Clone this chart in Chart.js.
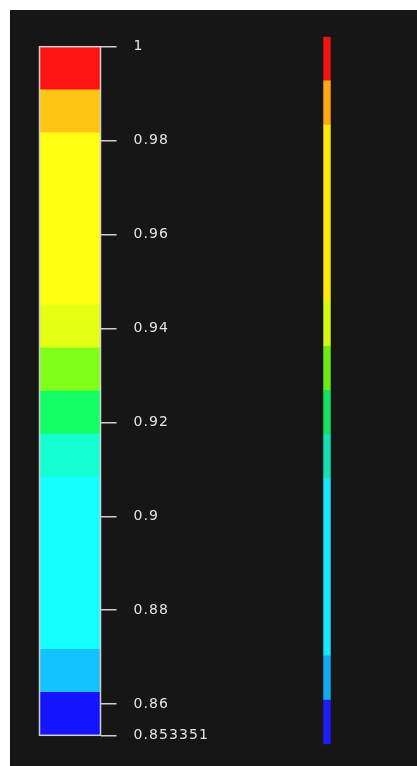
<!DOCTYPE html>
<html>
<head>
<meta charset="utf-8">
<script src="https://cdn.jsdelivr.net/npm/chart.js@4/dist/chart.umd.min.js"></script>
<style>
  html, body { margin: 0; padding: 0; background: #ffffff; }
  #frame { position: absolute; left: 10px; top: 10px; width: 407px; height: 756px; background: #161616; }
  canvas { position: absolute; left: 0; top: 0; }
</style>
</head>
<body>
<div id="frame"></div>
<canvas id="bar" width="417" height="766"></canvas>
<canvas id="strip" width="417" height="766"></canvas>
<script>
// Contour level boundaries, from minimum to maximum
const levelBounds = [0.853351, 0.862517, 0.871683, 0.908345, 0.917511, 0.926677,
                     0.935843, 0.945009, 0.981675, 0.990838, 1];
// Band colours, bottom band first
const bandColors = ['#1414ff', '#14c2ff', '#14ffff', '#14ffd2', '#14ff66',
                    '#80ff1a', '#e4ff14', '#ffff12', '#ffc515', '#ff1414'];
const stripColors = ['#1e1ef8', '#14aaf0', '#16e6fa', '#14e2b6', '#14e266',
                     '#6eea14', '#d2fa14', '#fceb0a', '#ffaa14', '#f01414'];
// Colour bar tick values and their labels
const tickValues = [1, 0.98, 0.96, 0.94, 0.92, 0.9, 0.88, 0.86, 0.853351];
const tickLabels = ['1', '0.98', '0.96', '0.94', '0.92', '0.9', '0.88', '0.86', '0.853351'];

const vMin = levelBounds[0];
const vMax = levelBounds[levelBounds.length - 1];

function bandDatasets(colors) {
  const sets = [];
  for (let i = 0; i < levelBounds.length - 1; i++) {
    sets.push({
      data: [[levelBounds[i], levelBounds[i + 1]]],
      backgroundColor: colors[i],
      borderWidth: 0,
      barPercentage: 1,
      categoryPercentage: 1
    });
  }
  return sets;
}

const frameOutline = {
  id: 'frameOutline',
  afterDatasetsDraw(chart) {
    const a = chart.chartArea, ctx = chart.ctx;
    ctx.save();
    ctx.strokeStyle = '#cfcfcf';
    ctx.lineWidth = 1.5;
    ctx.strokeRect(a.left, a.top, a.right - a.left, a.bottom - a.top);
    ctx.restore();
  }
};

const spacedText = {
  id: 'spacedText',
  beforeDraw(chart) { chart.ctx.letterSpacing = '1.1px'; }
};

new Chart(document.getElementById('bar'), {
  type: 'bar',
  data: { labels: [''], datasets: bandDatasets(bandColors) },
  options: {
    responsive: false,
    animation: false,
    events: [],
    layout: { padding: { left: 39.5, top: 46.7, bottom: 30.7, right: 196.5 } },
    plugins: { legend: { display: false }, tooltip: { enabled: false } },
    scales: {
      x: { display: false, stacked: true, offset: true },
      y: {
        position: 'right',
        min: vMin,
        max: vMax,
        stacked: false,
        afterBuildTicks(scale) { scale.ticks = tickValues.map(v => ({ value: v })); },
        afterFit(scale) { scale.width = 120; },
        border: { display: false },
        grid: { drawOnChartArea: false, drawTicks: true, tickLength: 16, color: '#cfcfcf', lineWidth: 1.5 },
        ticks: {
          autoSkip: false,
          padding: 17,
          color: '#e4e4e4',
          font: { family: 'DejaVu Sans', size: 14 },
          callback(value, index) { return tickLabels[index]; }
        }
      }
    }
  },
  plugins: [frameOutline, spacedText]
});

new Chart(document.getElementById('strip'), {
  type: 'bar',
  data: { labels: [''], datasets: bandDatasets(stripColors) },
  options: {
    responsive: false,
    animation: false,
    events: [],
    layout: { padding: { left: 323.3, right: 86.3, top: 36.7, bottom: 21.7 } },
    plugins: { legend: { display: false }, tooltip: { enabled: false } },
    scales: {
      x: { display: false, stacked: true, offset: true },
      y: { display: false, min: vMin, max: vMax, stacked: false }
    }
  }
});
</script>
</body>
</html>
